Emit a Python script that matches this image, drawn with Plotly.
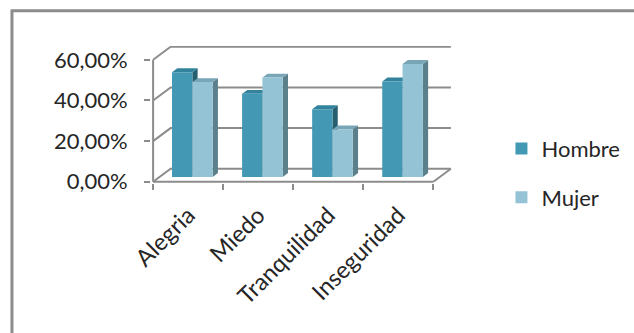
import plotly.graph_objects as go

# --- data -------------------------------------------------------------
categories = ["Alegria", "Miedo", "Tranquilidad", "Inseguridad"]
hombre = [51.52, 40.91, 33.33, 46.97]
mujer = [46.67, 48.89, 23.33, 55.56]
series_names = ["Hombre", "Mujer"]
y_ticks = [0, 20, 40, 60]
y_tick_labels = ["0,00%", "20,00%", "40,00%", "60,00%"]

# --- look -------------------------------------------------------------
FONT = "Lato"
TEXT = "#262626"
GRID = "#8C8C8C"
FACE = {"Hombre": ("#4398B4", "#33839C", "#265F70"),   # front, top, side
        "Mujer": ("#93C3D5", "#78A6B6", "#5B808C")}

# pseudo-3D geometry in data units
DX, DY = 0.25, 6.4          # depth of the floor / walls
FX, FY = 0.06, 2.4          # plane of the bar fronts
BX, BY = 0.075, 1.9         # depth of each bar
BW = 0.29                   # width of one bar
X0, X1 = -0.5, len(categories) - 0.5
YMAX = 60

# pixel placement of the plot box
W, H = 634, 333
SX = 70.0                   # px per category
SY = 122 / 60               # px per percentage point
PADX, PADY = 0.03, 0.6
xr = [X0 - PADX, X1 + DX + PADX]
yr = [-PADY, YMAX + DY + 0.4]
ml = 153 - PADX * SX
mb = H - 182 - PADY * SY
pw = (xr[1] - xr[0]) * SX
ph = (yr[1] - yr[0]) * SY
mr = W - ml - pw
mt = H - mb - ph

fig = go.Figure()


def poly(xs, ys, color):
    fig.add_trace(go.Scatter(
        x=list(xs) + [xs[0]], y=list(ys) + [ys[0]], mode="lines",
        fill="toself", fillcolor=color, line=dict(width=0),
        hoverinfo="skip", showlegend=False))


def lines(xs, ys):
    fig.add_trace(go.Scatter(
        x=xs, y=ys, mode="lines", line=dict(color=GRID, width=2),
        hoverinfo="skip", showlegend=False))


# back wall gridlines and side-wall diagonals
gx, gy = [], []
for v in y_ticks:
    gx += [X0, X0 + DX, X1 + DX, None]
    gy += [v, v + DY, v + DY, None]
gx += [X1, X1 + DX, None, X0, X1, None, X0, X0]
gy += [0, DY, None, 0, 0, None, 0, YMAX]
lines(gx, gy)

# bars: side, top and front faces
for i in range(len(categories)):
    for k, (name, vals) in enumerate(zip(series_names, [hombre, mujer])):
        front, top, side = FACE[name]
        xl = i + FX - BW + k * BW
        xrr = xl + BW
        y0 = FY
        y1 = FY + vals[i]
        poly([xrr, xrr + BX, xrr + BX, xrr], [y0, y0 + BY, y1 + BY, y1], side)
        poly([xl, xrr, xrr + BX, xl + BX], [y1, y1, y1 + BY, y1 + BY], top)
        poly([xl, xrr, xrr, xl], [y0, y0, y1, y1], front)

# legend entries
for k, name in enumerate(series_names):
    fig.add_trace(go.Bar(x=[None], y=[None], name=name, legendgroup=name,
                         marker=dict(color=FACE[name][0], line=dict(width=0))))

# axis carrying the category tick marks between categories
fig.add_trace(go.Scatter(x=[X0], y=[0], xaxis="x2", mode="markers",
                         marker=dict(opacity=0), hoverinfo="skip",
                         showlegend=False))

fig.update_layout(
    width=W, height=H,
    margin=dict(l=ml, r=mr, t=mt, b=mb, autoexpand=False),
    paper_bgcolor="white", plot_bgcolor="white",
    font=dict(family=FONT, size=22, color=TEXT),
    xaxis=dict(range=xr, tickvals=list(range(len(categories))),
               ticktext=categories, tickangle=-45, ticks="",
               showgrid=False, zeroline=False, showline=False,
               ticklabelstandoff=13, tickfont=dict(size=23.5)),
    xaxis2=dict(range=xr, overlaying="x", anchor="y", side="bottom",
                tickvals=[X0 + j for j in range(len(categories) + 1)],
                showticklabels=False, ticks="outside", ticklen=6,
                tickwidth=2, tickcolor=GRID, showgrid=False,
                zeroline=False, showline=False),
    yaxis=dict(range=yr, tickvals=y_ticks, ticktext=y_tick_labels,
               ticks="outside", ticklen=6, tickwidth=2, tickcolor=GRID,
               showgrid=False, zeroline=False, showline=False,
               ticklabelstandoff=12, tickfont=dict(size=22)),
    legend=dict(x=(501 - ml) / pw, y=(H - mb - 128) / ph,
                xanchor="left", yanchor="top", bgcolor="rgba(0,0,0,0)",
                traceorder="grouped", tracegroupgap=17,
                font=dict(size=22), itemwidth=30),
    showlegend=True,
    shapes=[dict(type="rect", xref="paper", yref="paper",
                 x0=(12 - ml) / pw, x1=(W + 20 - ml) / pw,
                 y0=(H - mb - (H + 20)) / ph, y1=(H - mb - 11) / ph,
                 line=dict(color=GRID, width=3), layer="below")],
)

fig.write_html("out.html")
